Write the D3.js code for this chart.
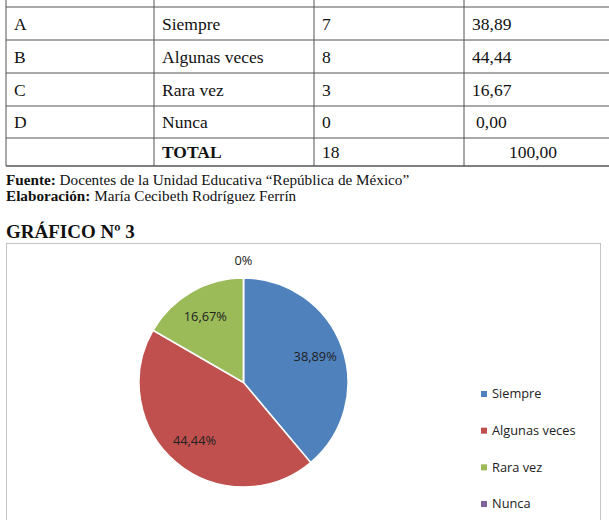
<!DOCTYPE html>
<html>
<head>
<meta charset="utf-8">
<script src="https://cdn.jsdelivr.net/npm/d3@7"></script>
<style>
  html, body { margin: 0; padding: 0; background: #fff; }
  svg { display: block; }
</style>
</head>
<body>
<div id="chart"></div>
<script>
// table + chart data
const letters = ['A', 'B', 'C', 'D'];
const categories = ['Siempre', 'Algunas veces', 'Rara vez', 'Nunca'];
const counts = [7, 8, 3, 0];
const percents = [38.89, 44.44, 16.67, 0.00];
const totalLabel = 'TOTAL';
const totalCount = 18;
const totalPercent = 100.00;
const colors = ['#4f81bd', '#c0504d', '#9bbb59', '#8064a2'];

const fmt = v => v.toFixed(2).replace('.', ',');

const width = 609, height = 520;
const svg = d3.select('#chart').append('svg')
  .attr('width', width)
  .attr('height', height);

const serif = '"Liberation Serif", "Times New Roman", serif';

// ---- table ----
const colX = [6, 154, 314, 464, 612];
const rowY = [-26, 7, 40, 73, 106, 138, 166];
const table = svg.append('g').attr('class', 'table');

table.selectAll('.hline')
  .data(rowY)
  .enter()
  .append('line')
  .attr('x1', colX[0]).attr('x2', width)
  .attr('y1', d => d).attr('y2', d => d)
  .attr('stroke', '#555')
  .attr('stroke-width', (d, i) => i === rowY.length - 1 ? 1.5 : 1);

table.selectAll('.vline')
  .data(colX.slice(0, 4))
  .enter()
  .append('line')
  .attr('x1', d => d).attr('x2', d => d)
  .attr('y1', 0).attr('y2', rowY[rowY.length - 1])
  .attr('stroke', '#555');

const rows = letters.map((l, i) => [l, categories[i], String(counts[i]), fmt(percents[i])]);
rows.push(['', totalLabel, String(totalCount), fmt(totalPercent)]);

rows.forEach((r, i) => {
  const yMid = (rowY[i + 1] + rowY[i + 2]) / 2;
  r.forEach((txt, j) => {
    const centered = j === 3 && i === 4;
    table.append('text')
      .attr('x', centered ? 533 : colX[j] + 8 + (j === 3 && i === 3 ? 4 : 0))
      .attr('y', yMid)
      .attr('dy', '0.35em')
      .attr('font-family', serif)
      .attr('font-size', 17.5)
      .attr('fill', '#111')
      .attr('text-anchor', centered ? 'middle' : 'start')
      .attr('font-weight', i === 4 && j === 1 ? 'bold' : 'normal')
      .text(txt);
  });
});

// source lines
const notes = [
  { b: 'Fuente:', t: ' Docentes de la Unidad Educativa “República de México”', y: 180 },
  { b: 'Elaboración:', t: ' María Cecibeth Rodríguez Ferrín', y: 196 }
];
notes.forEach(n => {
  const t = svg.append('text')
    .attr('x', 6).attr('y', n.y)
    .attr('dy', '0.35em')
    .attr('font-family', serif)
    .attr('font-size', 15.2)
    .attr('fill', '#111');
  t.append('tspan').attr('font-weight', 'bold').text(n.b);
  t.append('tspan').text(n.t);
});

svg.append('text')
  .attr('x', 6).attr('y', 231)
  .attr('dy', '0.35em')
  .attr('font-family', serif)
  .attr('font-size', 19)
  .attr('font-weight', 'bold')
  .attr('fill', '#111')
  .text('GRÁFICO Nº 3');

// ---- chart frame ----
svg.append('rect')
  .attr('x', 6.5).attr('y', 243.5)
  .attr('width', 594).attr('height', 290)
  .attr('fill', '#fff')
  .attr('stroke', '#c4c4c4')
  .attr('stroke-width', 1);

// ---- pie ----
const cx = 243.5, cy = 382.5, R = 104.5;
const pie = d3.pie().sort(null).value(d => d);
const arcs = pie(percents);
const arc = d3.arc().innerRadius(0).outerRadius(R);
const labelArc = d3.arc().innerRadius(R * 0.73).outerRadius(R * 0.73);

const g = svg.append('g').attr('transform', `translate(${cx},${cy})`);

g.selectAll('path')
  .data(arcs)
  .enter()
  .append('path')
  .attr('d', arc)
  .attr('fill', (d, i) => colors[i])
  .attr('stroke', '#fff')
  .attr('stroke-width', 1.5);

const labelFont = '"Open Sans", "Noto Sans", sans-serif';
g.selectAll('.lbl')
  .data(arcs)
  .enter()
  .append('text')
  .attr('class', 'lbl')
  .attr('transform', d => {
    if (d.value === 0) return `translate(0,${-R - 17})`;
    const [x, y] = labelArc.centroid(d);
    return `translate(${x},${y})`;
  })
  .attr('text-anchor', 'middle')
  .attr('dy', '0.35em')
  .attr('font-family', labelFont)
  .attr('font-size', 12.8)
  .attr('fill', '#222')
  .text(d => (d.value === 0 ? '0' : fmt(d.value)) + '%');

// ---- legend ----
const legendY = d3.scalePoint().domain(categories).range([394, 504]);
const legend = svg.selectAll('.legend')
  .data(categories)
  .enter()
  .append('g')
  .attr('class', 'legend')
  .attr('transform', d => `translate(481,${legendY(d)})`);

legend.append('rect')
  .attr('x', 0).attr('y', -3)
  .attr('width', 6).attr('height', 6)
  .attr('fill', (d, i) => colors[i]);

legend.append('text')
  .attr('x', 11).attr('y', 0)
  .attr('dy', '0.35em')
  .attr('font-family', labelFont)
  .attr('font-size', 12.8)
  .attr('fill', '#222')
  .text(d => d);
</script>
</body>
</html>
